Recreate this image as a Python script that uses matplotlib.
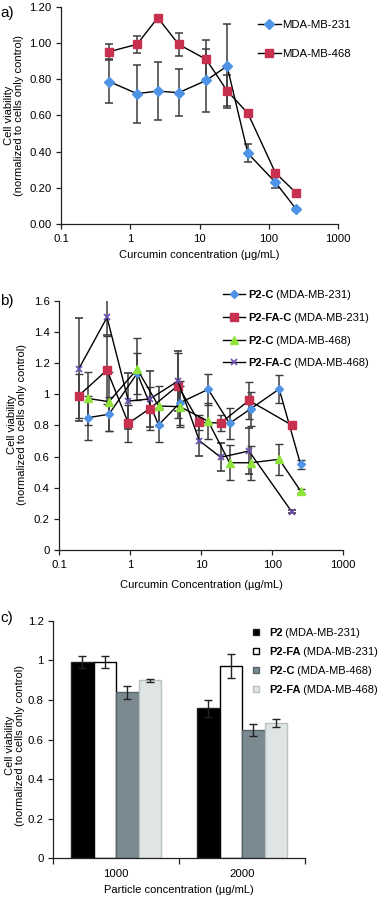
import numpy as np
import matplotlib
matplotlib.use("Agg")
import matplotlib.pyplot as plt

plt.rcParams["font.family"] = ["Liberation Sans", "DejaVu Sans"]
plt.rcParams["font.size"] = 8

# ---- panel a: free curcumin
conc_a = [0.5, 1.25, 2.5, 5, 12.5, 25, 50, 125, 250]
a231 = [0.786, 0.72, 0.734, 0.725, 0.793, 0.872, 0.39, 0.23, 0.081]
a231_err = [0.12, 0.16, 0.16, 0.13, 0.173, 0.232, 0.05, 0.03, 0.01]
a468 = [0.952, 0.992, 1.139, 0.992, 0.909, 0.736, 0.611, 0.282, 0.171]
a468_err = [0.04, 0.045, 0.0, 0.063, 0.107, 0.085, 0.01, 0.01, 0.01]

# ---- panel b: particle formulations
conc_c = [0.25, 0.5, 1.25, 2.5, 5, 12.5, 25, 50, 125, 250]
conc_fac = [0.1875, 0.47, 0.94, 1.875, 4.69, 9.375, 18.75, 46.9, 187.5]
p2c_231 = [0.849, 0.871, 1.134, 0.802, 0.945, 1.031, 0.813, 0.907, 1.033, 0.55]
p2c_231_err = [0.14, 0.11, 0.13, 0.11, 0.14, 0.10, 0.10, 0.11, 0.09, 0.03]
p2fac_231 = [0.99, 1.155, 0.813, 0.907, 1.055, 0.819, 0.815, 0.96, 0.802]
p2fac_231_err = [0.14, 0.22, 0.12, 0.14, 0.21, 0.05, 0.05, 0.12, 0.01]
p2c_468 = [0.973, 0.952, 1.161, 0.924, 0.92, 0.826, 0.56, 0.56, 0.582, 0.379]
p2c_468_err = [0.17, 0.19, 0.2, 0.13, 0.13, 0.115, 0.112, 0.11, 0.10, 0.01]
p2fac_468 = [1.161, 1.493, 0.956, 0.969, 1.084, 0.702, 0.595, 0.635, 0.246]
p2fac_468_err = [0.33, 0.11, 0.18, 0.18, 0.19, 0.10, 0.09, 0.15, 0.01]

# ---- panel c: empty particles
particle_conc = ["1000", "2000"]
bar_names = ["P2", "P2-FA", "P2-C", "P2-FA"]
bar_cells = ["(MDA-MB-231)", "(MDA-MB-231)", "(MDA-MB-468)", "(MDA-MB-468)"]
bar_vals = [[0.99, 0.758], [0.99, 0.97], [0.838, 0.648], [0.90, 0.685]]
bar_errs = [[0.03, 0.042], [0.03, 0.06], [0.032, 0.032], [0.008, 0.02]]

W, H = 379, 898
fig = plt.figure(figsize=(W / 100, H / 100), dpi=100)


def px_axes(l, r, t, b):
    return fig.add_axes([l / W, 1 - b / H, (r - l) / W, (b - t) / H])


def style(ax):
    for s in ["top", "right"]:
        ax.spines[s].set_visible(False)
    for s in ["left", "bottom"]:
        ax.spines[s].set_color("#222222")
        ax.spines[s].set_linewidth(0.9)
    ax.tick_params(direction="out", length=3.5, width=0.9, color="#222222", labelsize=8.2)


ylab = "Cell viability\n(normalized to cells only control)"
ekw = dict(ecolor="#3c3c3c", elinewidth=1.1, capsize=2.6, capthick=1.1)
legkw = dict(loc="upper left", bbox_transform=fig.transFigure, frameon=False,
             borderpad=0, borderaxespad=0)

# ================= a
ax = px_axes(61, 338, 6.7, 224)
style(ax)
ax.errorbar(conc_a, a231, yerr=a231_err, color="black", lw=1, marker="D", ms=5.5,
            mfc="#4f93e6", mec="#4f93e6", label="MDA-MB-231", **ekw)
ax.errorbar(conc_a, a468, yerr=a468_err, color="black", lw=1, marker="s", ms=5.5,
            mfc="#c8304f", mec="#c8304f", label="MDA-MB-468", **ekw)
ax.set_xscale("log")
ax.set_xlim(0.1, 1000)
ax.set_ylim(0, 1.2)
ax.set_yticks(np.arange(0, 1.21, 0.2))
ax.set_yticklabels(["%.2f" % v for v in np.arange(0, 1.21, 0.2)])
ax.set_xticks([0.1, 1, 10, 100, 1000])
ax.set_xticklabels(["0.1", "1", "10", "100", "1000"])
ax.minorticks_off()
ax.set_xlabel("Curcumin concentration (μg/mL)", fontsize=8)
ax.xaxis.set_label_coords(199.5 / W, 1 - 250 / H, transform=fig.transFigure)
ax.set_ylabel(ylab, fontsize=8, linespacing=1.05)
ax.yaxis.set_label_coords(24 / W, 1 - 115 / H, transform=fig.transFigure)
h, l = ax.get_legend_handles_labels()
h = [x[0] for x in h]
ax.legend(h, l, bbox_to_anchor=(258 / W, 1 - 20 / H), handlelength=2.0,
          handletextpad=0.15, labelspacing=1.65, fontsize=8.2, **legkw)
fig.text(0 / W, 1 - 13 / H, "a)", fontsize=11, va="center", ha="left")

# ================= b
ax = px_axes(59.3, 343.3, 300.7, 550)
style(ax)
series_b = [
    (conc_c, p2c_231, p2c_231_err, "D", "#4f93e6", 4.0, "P2-C", "(MDA-MB-231)"),
    (conc_fac, p2fac_231, p2fac_231_err, "s", "#c8304f", 5.5, "P2-FA-C", "(MDA-MB-231)"),
    (conc_c, p2c_468, p2c_468_err, "^", "#8fe33a", 5.5, "P2-C", "(MDA-MB-468)"),
    (conc_fac, p2fac_468, p2fac_468_err, "x", "#6a4fb0", 5.0, "P2-FA-C", "(MDA-MB-468)"),
]
handles = []
for xs, ys, es, mk, col, ms, name, cell in series_b:
    eb = ax.errorbar(xs, ys, yerr=es, color="black", lw=1, marker=mk, ms=ms,
                     mfc=col, mec=col, mew=1.2 if mk == "x" else 1, **ekw)
    handles.append(eb[0])
ax.set_xscale("log")
ax.set_xlim(0.1, 1000)
ax.set_ylim(0, 1.6)
yt = np.arange(0, 1.61, 0.2)
ax.set_yticks(yt)
ax.set_yticklabels(["%g" % round(v, 1) for v in yt])
ax.set_xticks([0.1, 1, 10, 100, 1000])
ax.set_xticklabels(["0.1", "1", "10", "100", "1000"])
ax.minorticks_off()
ax.set_xlabel("Curcumin Concentration (µg/mL)", fontsize=8)
ax.xaxis.set_label_coords(201 / W, 1 - 579.5 / H, transform=fig.transFigure)
ax.set_ylabel(ylab, fontsize=8, linespacing=1.05)
ax.yaxis.set_label_coords(27 / W, 1 - 424 / H, transform=fig.transFigure)
leg_b = ax.legend(handles, [s[6] for s in series_b], bbox_to_anchor=(223 / W, 1 - 290 / H),
                  handlelength=2.0, handletextpad=0.25, labelspacing=1.15,
                  prop=dict(size=8, weight="bold"), **legkw)
fig.text(0 / W, 1 - 301 / H, "b)", fontsize=11, va="center", ha="left")

# ================= c
ax = px_axes(53.3, 305, 620.7, 858.3)
style(ax)
xg = np.arange(len(particle_conc))
bw = 0.179
face = ["black", "white", "#7b8a91", "#dfe4e4"]
edge = ["#222222", "black", "#58666c", "#b9c1c1"]
bar_handles = []
for i in range(4):
    pos = xg + (i - 1.5) * bw
    ax.bar(pos, bar_vals[i], width=bw, color=face[i], edgecolor=edge[i], linewidth=1,
           yerr=bar_errs[i], error_kw=dict(ecolor="#222222", elinewidth=1, capsize=3, capthick=1))
    bar_handles.append(plt.Line2D([], [], ls="none", marker="s", ms=4.5, mfc=face[i],
                                  mec=edge[i], mew=1))
ax.set_xlim(-0.5, 1.5)
ax.set_ylim(0, 1.2)
yt = np.arange(0, 1.21, 0.2)
ax.set_yticks(yt)
ax.set_yticklabels(["%g" % round(v, 1) for v in yt])
ax.set_xticks(xg)
ax.set_xticklabels(particle_conc)
ax.tick_params(axis="x", length=0, pad=8)
ax.set_xticks([-0.5, 0.5, 1.5], minor=True)
ax.tick_params(axis="x", which="minor", length=4, width=0.9, color="#222222")
ax.set_xlabel("Particle concentration (µg/mL)", fontsize=8)
ax.xaxis.set_label_coords(179 / W, 1 - 885 / H, transform=fig.transFigure)
ax.set_ylabel(ylab, fontsize=8, linespacing=1.05)
ax.yaxis.set_label_coords(25 / W, 1 - 745 / H, transform=fig.transFigure)
leg_c = ax.legend(bar_handles, bar_names, bbox_to_anchor=(251 / W, 1 - 628 / H),
                  handlelength=0.9, handletextpad=0.7, labelspacing=0.82,
                  prop=dict(size=8, weight="bold"), **legkw)
fig.text(0 / W, 1 - 618 / H, "c)", fontsize=11, va="center", ha="left")

# non-bold cell line part after the bold names
fig.canvas.draw()
for leg, cells in [(leg_b, [s[7] for s in series_b]), (leg_c, bar_cells)]:
    for t, cell in zip(leg.get_texts(), cells):
        ax.annotate(" " + cell, xy=(1, 0), xycoords=t, va="bottom", ha="left",
                    fontsize=8, annotation_clip=False)

fig.savefig("out.png", dpi=100)
